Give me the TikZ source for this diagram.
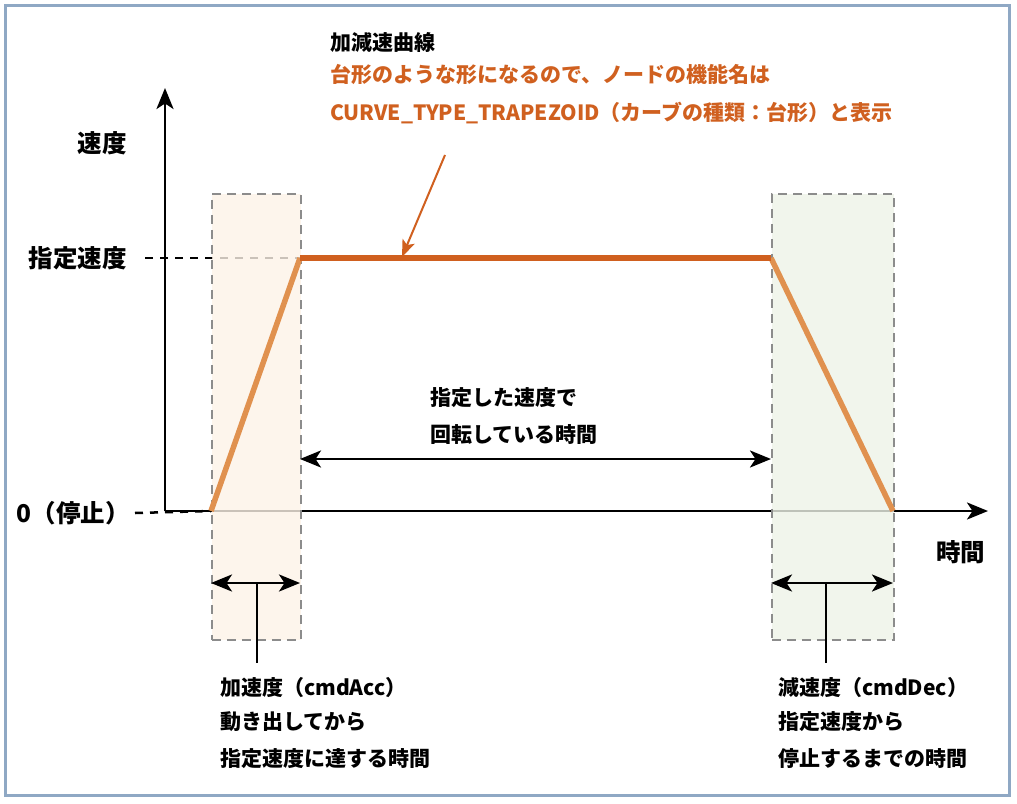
\documentclass[tikz,border=0pt]{standalone}
\usepackage{fontspec}
\setmainfont{Noto Sans CJK JP}
\usetikzlibrary{arrows.meta}
\definecolor{frameblue}{HTML}{8FA8C4}
\definecolor{accent}{HTML}{D0601F}
\definecolor{slope}{HTML}{E0914F}
\definecolor{accfill}{HTML}{FDF3E8}
\definecolor{decfill}{HTML}{EEF3E8}
\begin{document}
\begin{tikzpicture}[x=1pt,y=-1pt,
  lbl/.style={font=\fontsize{21}{34}\selectfont\bfseries, inner sep=0pt, anchor=west},
  big/.style={font=\fontsize{24.5}{28}\selectfont\bfseries, inner sep=0pt},
  tip/.style={-{Stealth[length=21pt,width=17pt,inset=5.5pt]}},
  axisline/.style={line width=2.8pt, tip},
  dimline/.style={line width=2.8pt, {Stealth[length=21pt,width=17pt,inset=5.5pt]}-{Stealth[length=21pt,width=17pt,inset=5.5pt]}},
  guide/.style={line width=2.5pt, dash pattern=on 8pt off 7pt},
  zone/.style={draw=black!45, line width=1.5pt, dash pattern=on 9pt off 6pt, fill opacity=0.8},
]
\useasboundingbox (0,0) rectangle (1017,803);
\fill[white] (0,0) rectangle (1017,803);
\draw[frameblue, line width=3pt] (5,5) rectangle (1009,795);

% coordinates
\coordinate (o) at (165,511);
\coordinate (ytop) at (165,88);
\coordinate (xend) at (988,511);
\coordinate (p0) at (211,511);
\coordinate (p1) at (300,258);
\coordinate (p2) at (771,258);
\coordinate (p3) at (893,511);

% labels on axes
\node[big, anchor=east] (vlab) at (127,143) {速度};
\node[big, anchor=east] (vset) at (127,258) {指定速度};
\node[big, anchor=east] (vzero) at (130,513) {0（停止）};
\node[big, anchor=west] (tlab) at (936,552) {時間};

% guides
\draw[guide] (vset.east) ++(18,0) coordinate (g1) -- (p1);
\draw[guide] (vzero.east) ++(5,0) coordinate (g0) -- (p0);

% axes
\draw[axisline] (o) -- (ytop);
\draw[axisline] (o) -- (xend);

% zones
\node[zone, fill=accfill, minimum width=89pt, minimum height=446pt, inner sep=0pt, anchor=north west] (acc) at (211,193) {};
\node[zone, fill=decfill, minimum width=122pt, minimum height=446pt, inner sep=0pt, anchor=north west] (dec) at (771,193) {};

% curve
\draw[slope, line width=5.5pt] (p0) -- (p1);
\draw[slope, line width=5.5pt] (p2) -- (p3);
\draw[accent, line width=6.5pt] (p1) -- (p2);

% title annotation
\node[lbl, text=black] (t1) at (330,42) {加減速曲線};
\node[lbl, text=accent] (t2) at (330,75) {台形のような形になるので、ノードの機能名は};
\node[lbl, text=accent] (t3) at (330,113) {CURVE\_TYPE\_TRAPEZOID（カーブの種類：台形）と表示};
\coordinate (annstart) at (445,155);
\coordinate (anntip) at (402,257);
\draw[accent, line width=2pt, -{Stealth[length=17pt,width=13pt,inset=4pt]}] (annstart) -- (anntip);

% constant-speed span
\draw[dimline] (300,459) coordinate (c1) -- (771,459) coordinate (c2);
\node[lbl] (m1) at (430,398) {指定した速度で};
\node[lbl] (m2) at (430,435) {回転している時間};

% acceleration span
\coordinate (a1) at (211,583);
\coordinate (a2) at (300,583);
\coordinate (am) at (257,583);
\coordinate (ab) at (257,663);
\draw[dimline] (a1) -- (a2);
\draw[line width=2.8pt] (am) -- (ab);
\node[lbl] (la1) at (220,688) {加速度（cmdAcc）};
\node[lbl] (la2) at (220,722) {動き出してから};
\node[lbl] (la3) at (220,759) {指定速度に達する時間};

% deceleration span
\coordinate (d1) at (771,583);
\coordinate (d2) at (893,583);
\coordinate (dm) at (826,583);
\coordinate (db) at (826,663);
\draw[dimline] (d1) -- (d2);
\draw[line width=2.8pt] (dm) -- (db);
\node[lbl] (ld1) at (778,688) {減速度（cmdDec）};
\node[lbl] (ld2) at (778,722) {指定速度から};
\node[lbl] (ld3) at (778,759) {停止するまでの時間};
\end{tikzpicture}
\end{document}
